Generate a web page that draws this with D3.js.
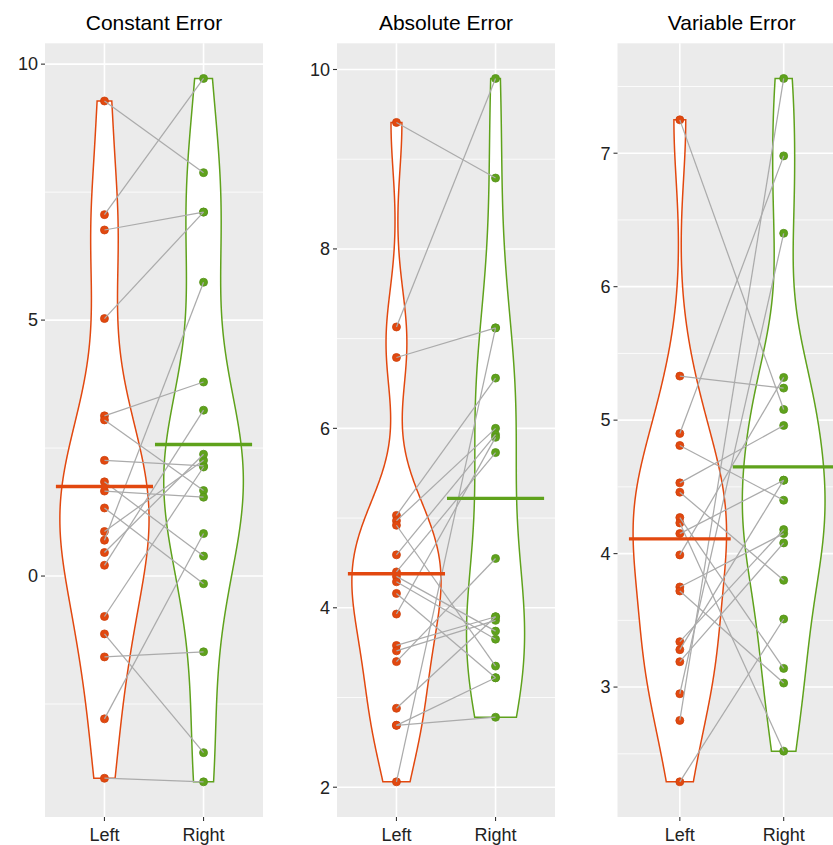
<!DOCTYPE html>
<html><head><meta charset="utf-8">
<script src="https://cdn.jsdelivr.net/npm/d3@7"></script>
<style>body{margin:0;background:#fff}svg{display:block}</style>
</head><body><svg id="c" width="833" height="845"></svg>
<script>
// ---- data ----
const titles = ["Constant Error", "Absolute Error", "Variable Error"];
const categories = ["Left", "Right"];

// paired values: left[i] is connected to right[i]
const ceLeft  = [9.28, 7.06, 6.76, 5.03, 3.13, 3.05, 2.26, 1.84, 1.66, 1.33, 0.87, 0.70, 0.46, 0.21, -0.79, -1.13, -1.58, -2.79, -3.95];
const ceRight = [7.88, 9.72, 7.11, 7.11, 3.79, 1.67, 2.15, 0.39, 1.54, -0.15, 2.26, 5.74, 2.38, 3.24, 2.13, -3.45, -1.48, 0.83, -4.02];

const aeLeft  = [9.41, 7.13, 6.79, 5.03, 4.97, 4.92, 4.59, 4.40, 4.35, 4.29, 4.16, 3.93, 3.58, 3.52, 3.40, 2.88, 2.69, 2.69, 2.06];
const aeRight = [8.79, 9.90, 7.12, 6.56, 6.00, 3.35, 5.93, 5.73, 3.74, 3.65, 3.22, 5.90, 3.90, 3.86, 4.55, 3.90, 3.22, 2.78, 7.12];

const veLeft  = [7.25, 5.33, 4.90, 4.81, 4.53, 4.46, 4.27, 4.23, 4.15, 3.99, 3.75, 3.72, 3.34, 3.28, 3.19, 2.95, 2.75, 2.29];
const veRight = [5.08, 5.24, 6.98, 4.40, 4.96, 3.80, 3.14, 2.52, 4.55, 5.32, 4.15, 3.03, 4.18, 4.55, 4.08, 6.40, 7.56, 3.51];

// summary (horizontal bar) values per group
const ceSummary = [1.75, 2.57];
const aeSummary = [4.38, 5.22];
const veSummary = [4.11, 4.65];

const ceTicks = [0, 5, 10];
const aeTicks = [2, 4, 6, 8, 10];
const veTicks = [3, 4, 5, 6, 7];

// ---- layout / style ----
const colors = ["#E2480F", "#5FA21C"];
const panelTop = 43.3, panelBottom = 817;
const panels = [
  {title: titles[0], left: ceLeft, right: ceRight, summary: ceSummary, ticks: ceTicks, x0: 45, x1: 263},
  {title: titles[1], left: aeLeft, right: aeRight, summary: aeSummary, ticks: aeTicks, x0: 337, x1: 555},
  {title: titles[2], left: veLeft, right: veRight, summary: veSummary, ticks: veTicks, x0: 617.5, x1: 846}
];

const svg = d3.select("#c");
const font = "'Liberation Sans', Arial, sans-serif";

function bwNrd0(v) {
  const s = v.slice().sort(d3.ascending);
  const sd = d3.deviation(s);
  const iqr = d3.quantile(s, 0.75) - d3.quantile(s, 0.25);
  let lo = Math.min(sd, iqr / 1.34);
  if (!(lo > 0)) lo = sd || Math.abs(s[0]) || 1;
  return 0.9 * lo * Math.pow(s.length, -0.2);
}
function kde(v) {
  const bw = bwNrd0(v);
  const [mn, mx] = d3.extent(v);
  const n = 512;
  const out = [];
  for (let i = 0; i < n; i++) {
    const t = mn + (mx - mn) * i / (n - 1);
    let s = 0;
    for (const d of v) { const u = (t - d) / bw; s += Math.exp(-0.5 * u * u); }
    out.push({y: t, d: s / (v.length * bw * Math.sqrt(2 * Math.PI))});
  }
  return out;
}

panels.forEach(p => {
  const all = p.left.concat(p.right);
  const [mn, mx] = d3.extent(all);
  const pad = (mx - mn) * 0.05;
  const y = d3.scaleLinear().domain([mn - pad, mx + pad]).range([panelBottom, panelTop]);
  const x = d3.scaleLinear().domain([0.4, 2.6]).range([p.x0, p.x1]);
  const unit = x(1) - x(0);
  const g = svg.append("g");

  // background
  g.append("rect").attr("x", p.x0).attr("y", panelTop)
    .attr("width", p.x1 - p.x0).attr("height", panelBottom - panelTop).attr("fill", "#EBEBEB");

  // minor grid
  const step = p.ticks[1] - p.ticks[0];
  const minors = [];
  for (let t = p.ticks[0] - step / 2; t <= y.domain()[1]; t += step) {
    if (t >= y.domain()[0]) minors.push(t);
  }
  g.selectAll(".minor").data(minors).join("line")
    .attr("x1", p.x0).attr("x2", p.x1).attr("y1", d => y(d)).attr("y2", d => y(d))
    .attr("stroke", "#fff").attr("stroke-width", 0.8);
  // major grid
  g.selectAll(".major").data(p.ticks).join("line")
    .attr("x1", p.x0).attr("x2", p.x1).attr("y1", d => y(d)).attr("y2", d => y(d))
    .attr("stroke", "#fff").attr("stroke-width", 1.6);
  g.selectAll(".vmajor").data(categories).join("line")
    .attr("x1", (d, i) => x(i + 1)).attr("x2", (d, i) => x(i + 1))
    .attr("y1", panelTop).attr("y2", panelBottom)
    .attr("stroke", "#fff").attr("stroke-width", 1.6);

  // violins
  const groups = [p.left, p.right];
  const dens = groups.map(kde);
  const maxD = d3.max(dens, ds => d3.max(ds, d => d.d));
  dens.forEach((ds, i) => {
    const cx = x(i + 1);
    const area = d3.area()
      .y(d => y(d.y))
      .x0(d => cx - d.d / maxD * 0.45 * unit)
      .x1(d => cx + d.d / maxD * 0.45 * unit);
    g.append("path").attr("d", area(ds)).attr("fill", "#fff")
      .attr("stroke", colors[i]).attr("stroke-width", 1.5);
  });

  // points
  groups.forEach((vals, i) => {
    g.selectAll(null).data(vals).join("circle")
      .attr("cx", x(i + 1)).attr("cy", d => y(d)).attr("r", 4)
      .attr("fill", colors[i]).attr("stroke", d3.color(colors[i]).darker(0.3)).attr("stroke-width", 0.8);
  });

  // paired lines
  g.selectAll(".pair").data(p.left.map((v, i) => [v, p.right[i]])).join("line")
    .attr("x1", x(1)).attr("x2", x(2))
    .attr("y1", d => y(d[0])).attr("y2", d => y(d[1]))
    .attr("stroke", "#ABABAB").attr("stroke-width", 1.25);

  // summary bars
  p.summary.forEach((v, i) => {
    g.append("line").attr("x1", x(i + 1 - 0.49)).attr("x2", x(i + 1 + 0.49))
      .attr("y1", y(v)).attr("y2", y(v))
      .attr("stroke", colors[i]).attr("stroke-width", 3.4);
  });

  // y axis
  g.selectAll(".ytick").data(p.ticks).join("line")
    .attr("x1", p.x0 - 4).attr("x2", p.x0).attr("y1", d => y(d)).attr("y2", d => y(d))
    .attr("stroke", "#333").attr("stroke-width", 1.1);
  g.selectAll(".ylab").data(p.ticks).join("text")
    .attr("x", p.x0 - 7).attr("y", d => y(d)).attr("dy", "0.35em")
    .attr("text-anchor", "end").attr("font-family", font).attr("font-size", 18)
    .attr("fill", "#222").text(d => d);

  // x axis
  g.selectAll(".xtick").data(categories).join("line")
    .attr("x1", (d, i) => x(i + 1)).attr("x2", (d, i) => x(i + 1))
    .attr("y1", panelBottom).attr("y2", panelBottom + 4)
    .attr("stroke", "#333").attr("stroke-width", 1.1);
  g.selectAll(".xlab").data(categories).join("text")
    .attr("x", (d, i) => x(i + 1)).attr("y", 841)
    .attr("text-anchor", "middle").attr("font-family", font).attr("font-size", 18)
    .attr("fill", "#222").text(d => d);

  // title
  g.append("text").attr("x", (p.x0 + p.x1) / 2).attr("y", 30)
    .attr("text-anchor", "middle").attr("font-family", font).attr("font-size", 21)
    .attr("fill", "#000").text(p.title);
});
</script>
</body></html>
